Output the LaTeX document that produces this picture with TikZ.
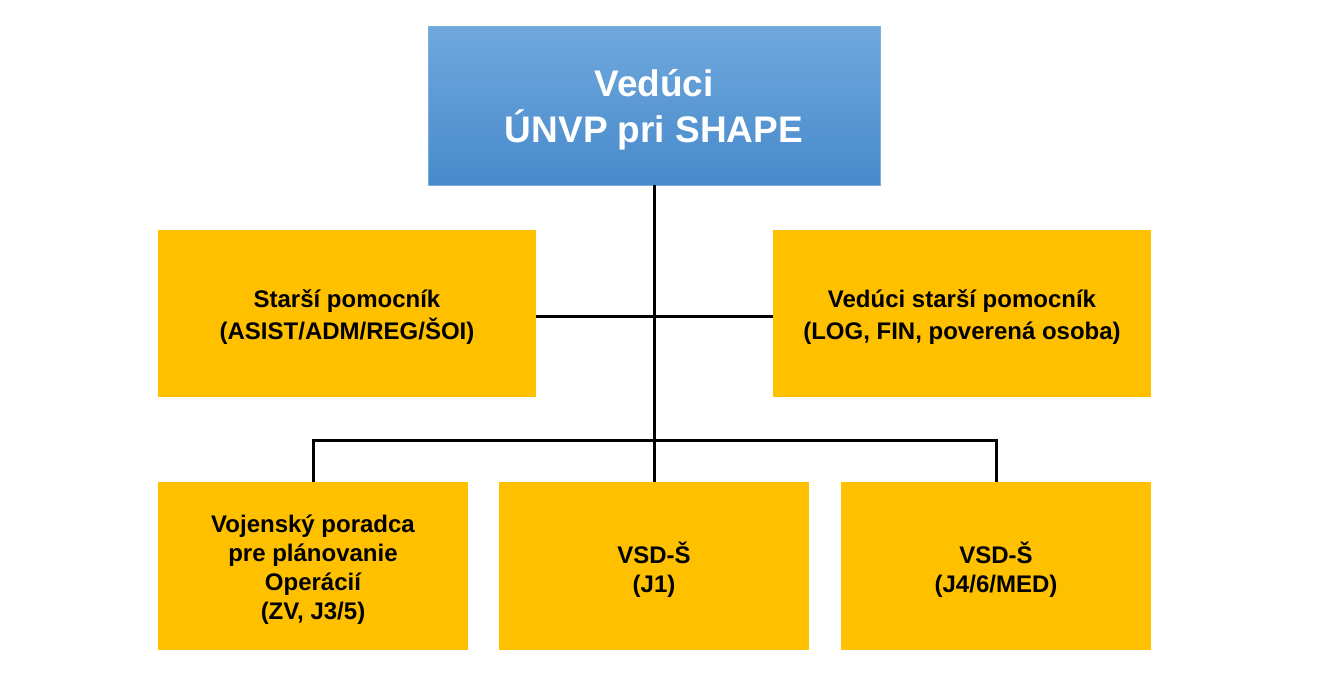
\documentclass[tikz,border=0pt]{standalone}
\usepackage{fontspec}
\setmainfont{Liberation Sans}
\usetikzlibrary{calc}
\definecolor{topc}{RGB}{112,168,221}
\definecolor{botc}{RGB}{71,138,203}
\definecolor{bordc}{RGB}{120,175,225}
\definecolor{gold}{RGB}{255,192,0}
\begin{document}
\begin{tikzpicture}[x=1pt,y=-1pt,
  headbox/.style={top color=topc,bottom color=botc,draw=bordc,line width=0.8pt,inner sep=0pt,
    minimum width=452pt,minimum height=159pt},
  headtext/.style={align=center,text=white,inner sep=0pt,yshift=-4.5pt,
    font=\fontsize{37}{46}\selectfont\bfseries},
  unitbox/.style={fill=gold,inner sep=0pt,minimum width=378pt,minimum height=167pt},
  unittext/.style={align=center,inner sep=0pt,yshift=-4pt,
    font=\fontsize{24}{32}\selectfont\bfseries},
  lowbox/.style={fill=gold,inner sep=0pt,minimum width=310pt,minimum height=168pt},
  lowtext/.style={align=center,inner sep=0pt,yshift=-4pt,
    font=\fontsize{24}{29}\selectfont\bfseries},
  link/.style={line width=3pt,black}]
\useasboundingbox (0,0) rectangle (1344,678);
\node[headbox,label={[headtext]center:Vedúci\\ÚNVP pri SHAPE}] (top) at (654,105.5) {};
\node[unitbox,label={[unittext]center:Starší pomocník\\(ASIST/ADM/REG/ŠOI)}] (ml) at (347,313.5) {};
\node[unitbox,label={[unittext]center:Vedúci starší pomocník\\(LOG, FIN, poverená osoba)}] (mr) at (962,313.5) {};
\node[lowbox,label={[lowtext]center:Vojenský poradca\\pre plánovanie\\Operácií\\(ZV, J3/5)}] (b1) at (313,566) {};
\node[lowbox,label={[lowtext]center:VSD-Š\\(J1)}] (b2) at (654,566) {};
\node[lowbox,label={[lowtext]center:VSD-Š\\(J4/6/MED)}] (b3) at (996,566) {};
\coordinate (bus) at (0,440);
\draw[link] (top.south) -- (b2.north);
\draw[link] ([yshift=-2.5pt]ml.east) -- ([yshift=-2.5pt]mr.west);
\draw[link] (b1.north) -- (b1.north |- bus) -- (b3.north |- bus) -- (b3.north);
\end{tikzpicture}
\end{document}
